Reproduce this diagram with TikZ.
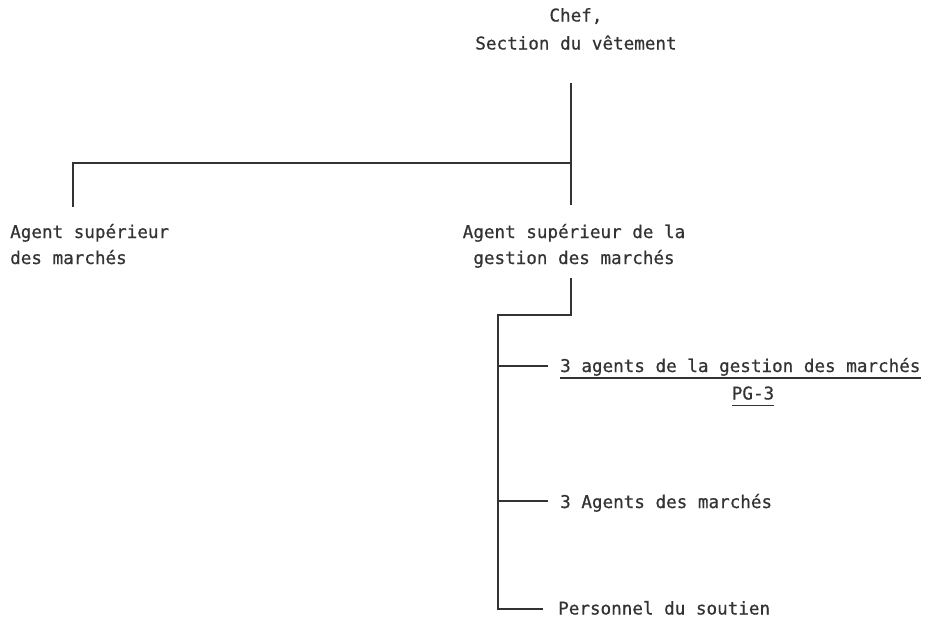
\documentclass[tikz,border=0pt]{standalone}
\usepackage{fontspec}
\newfontfamily\typew[FakeBold=0.6]{DejaVu Sans Mono}
\begin{document}
\begin{tikzpicture}[x=1pt,y=-1pt,
  every node/.style={inner sep=0pt, text=black!80, font=\typew\fontsize{17.6}{28}\selectfont},
  wire/.style={draw=black!80, line width=1.6pt},
  uline/.style={draw=black!80, line width=1.9pt}]
\useasboundingbox[fill=white] (0,0) rectangle (932,624);

% head of the section (base anchor sits on the last line)
\node[anchor=base, align=center] (chef) at (576,49.5) {Chef,\\Section du vêtement};

% second level
\node[anchor=base west, align=left] (asm) at (10,264) {Agent supérieur\\[-2pt]des marchés};
\node[anchor=base, align=center] (asg) at (574,264) {Agent supérieur de la\\[-2pt]gestion des marchés};

% third level
\node[anchor=base west] (agm) at (560,372) {3 agents de la gestion des marchés};
\node[anchor=base] (pg) at (753,399.5) {PG-3};
\node[anchor=base west] (am) at (560,508) {3 Agents des marchés};
\node[anchor=base west] (ps) at (558,614.5) {Personnel du soutien};

% underlines
\draw[uline] ([yshift=-6pt]agm.base west) -- ([yshift=-6pt]agm.base east);
\draw[uline] ([yshift=-6pt]pg.base west) -- ([yshift=-6pt]pg.base east);

% junction points
\coordinate (c0) at (571,83);
\coordinate (c1) at (571,163);
\coordinate (c2) at (571,205);
\coordinate (l1) at (73,207);
\coordinate (r0) at (571,278);
\coordinate (r1) at (498,315);
\coordinate (b0) at (498,366);
\coordinate (b1) at (498,501);
\coordinate (b2) at (498,609);

% connectors
\draw[wire] (c0) -- (c2);
\draw[wire] (c1) -| (l1);
\draw[wire] (r0) |- (r1) -- (b2) -- ([xshift=-15pt]ps.west |- b2);
\draw[wire] (b0) -- ([xshift=-12pt]agm.west |- b0);
\draw[wire] (b1) -- ([xshift=-12pt]am.west |- b1);
\end{tikzpicture}
\end{document}
